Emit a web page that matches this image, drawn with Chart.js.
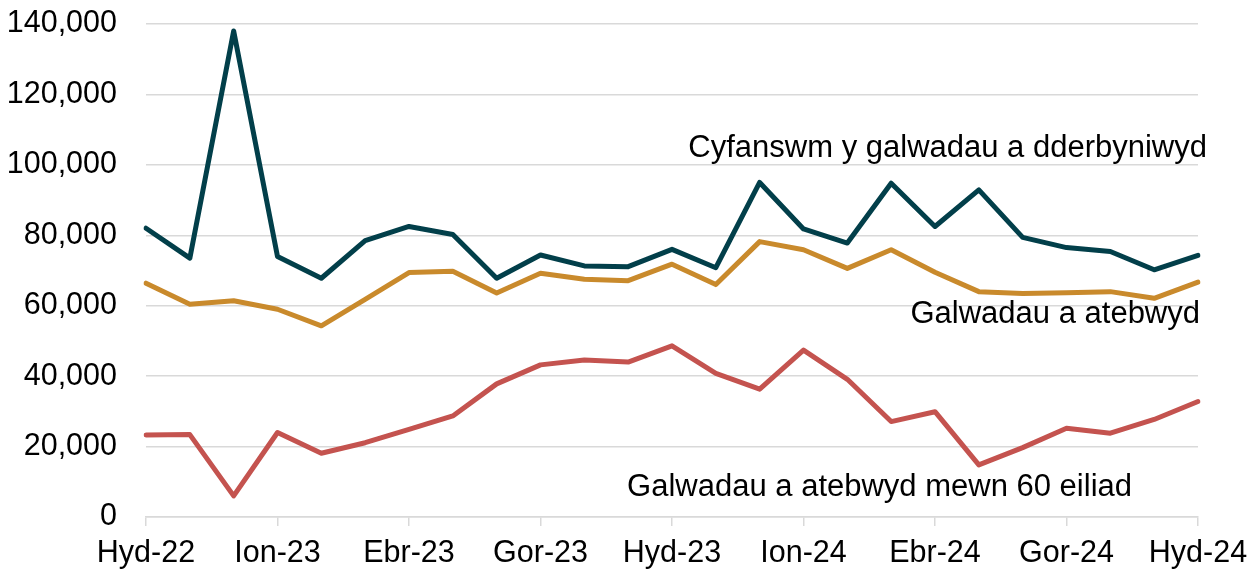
<!DOCTYPE html>
<html>
<head>
<meta charset="utf-8">
<script src="https://cdn.jsdelivr.net/npm/chart.js@4/dist/chart.umd.min.js"></script>
<style>
  html, body { margin: 0; padding: 0; background: #ffffff; }
  #wrap { width: 1257px; height: 570px; position: relative; }
</style>
</head>
<body>
<div id="wrap"><canvas id="c"></canvas></div>
<script>
// Months (Welsh abbreviations), Oct 2022 – Oct 2024
const months = ['Hyd-22','Tach-22','Rhag-22','Ion-23','Chwef-23','Maw-23','Ebr-23','Mai-23','Meh-23','Gor-23','Awst-23','Medi-23',
                'Hyd-23','Tach-23','Rhag-23','Ion-24','Chwef-24','Maw-24','Ebr-24','Mai-24','Meh-24','Gor-24','Awst-24','Medi-24','Hyd-24'];
// Tick labels shown on the x axis
const shownTicks = ['Hyd-22','Ion-23','Ebr-23','Gor-23','Hyd-23','Ion-24','Ebr-24','Gor-24','Hyd-24'];

// Series values
const callsReceived = [82000, 73500, 138000, 74000, 67800, 78500, 82500, 80200, 67800, 74400, 71300, 71100,
                       76000, 70800, 95000, 81800, 77800, 94800, 82500, 92900, 79400, 76500, 75400, 70200, 74300];
const callsAnswered = [66400, 60400, 61400, 59000, 54300, 61800, 69400, 69800, 63600, 69200, 67500, 67100,
                       71800, 66000, 78200, 75900, 70600, 75900, 69500, 64000, 63500, 63700, 64000, 62100, 66700];
const answeredIn60s = [23300, 23400, 6000, 24000, 18100, 21100, 24900, 28700, 37800, 43200, 44600, 44000,
                       48600, 40800, 36300, 47400, 39100, 27100, 29900, 14800, 19700, 25200, 23800, 27700, 32800];

// Series names (used as in-chart labels)
const seriesNames = ['Cyfanswm y galwadau a dderbyniwyd', 'Galwadau a atebwyd', 'Galwadau a atebwyd mewn 60 eiliad'];
const seriesColors = ['#023f4a', '#c98a2c', '#c4534f'];

const FONT = '"Liberation Sans", Arial, sans-serif';

// label placement: [right offset from chart right (px), baseline value]
const labelPlacement = [
  { dx: 9,   v: 102200 },
  { dx: 2,   v: 55200 },
  { dx: -66, v: 6000 }
];

const labelPlugin = {
  id: 'seriesLabels',
  afterDatasetsDraw(chart) {
    const { ctx, chartArea, scales } = chart;
    ctx.save();
    ctx.font = '31px ' + FONT;
    ctx.fillStyle = '#000000';
    ctx.textAlign = 'right';
    ctx.textBaseline = 'alphabetic';
    seriesNames.forEach((name, i) => {
      const p = labelPlacement[i];
      ctx.fillText(name, chartArea.right + p.dx, scales.y.getPixelForValue(p.v));
    });
    ctx.restore();
  }
};

new Chart(document.getElementById('c'), {
  type: 'line',
  data: {
    labels: months,
    datasets: [
      { label: seriesNames[0], data: callsReceived, borderColor: seriesColors[0] },
      { label: seriesNames[1], data: callsAnswered, borderColor: seriesColors[1] },
      { label: seriesNames[2], data: answeredIn60s, borderColor: seriesColors[2] }
    ].map(d => Object.assign(d, {
      borderWidth: 5, pointRadius: 0, fill: false, tension: 0,
      borderJoinStyle: 'round', borderCapStyle: 'round'
    }))
  },
  options: {
    responsive: true,
    maintainAspectRatio: false,
    animation: false,
    layout: { padding: { top: 24, right: 59, left: 0, bottom: 0 } },
    plugins: { legend: { display: false }, tooltip: { enabled: false } },
    scales: {
      x: {
        offset: false,
        border: { display: true, color: '#d9d9d9', width: 1.5 },
        grid: { display: true, drawOnChartArea: false, drawTicks: true, tickLength: 9, color: '#d9d9d9', lineWidth: 1.5 },
        afterFit: (s) => { s.height = 53; s.paddingLeft = 0; s.paddingRight = 0; },
        ticks: {
          autoSkip: false, maxRotation: 0, minRotation: 0, padding: 9,
          color: '#000000', font: { family: FONT, size: 30.5 },
          callback: function (val) {
            const lab = this.getLabelForValue(val);
            return shownTicks.includes(lab) ? lab : null;
          }
        }
      },
      y: {
        min: 0, max: 140000,
        border: { display: false },
        grid: { color: '#d9d9d9', lineWidth: 1.5, drawTicks: false },
        afterFit: (s) => { s.width = 146; s.paddingTop = 0; s.paddingBottom = 0; },
        ticks: {
          stepSize: 20000, padding: 29, color: '#000000',
          font: { family: FONT, size: 30.5 },
          callback: (v) => v.toLocaleString('en-US')
        }
      }
    }
  },
  plugins: [labelPlugin]
});
</script>
</body>
</html>
